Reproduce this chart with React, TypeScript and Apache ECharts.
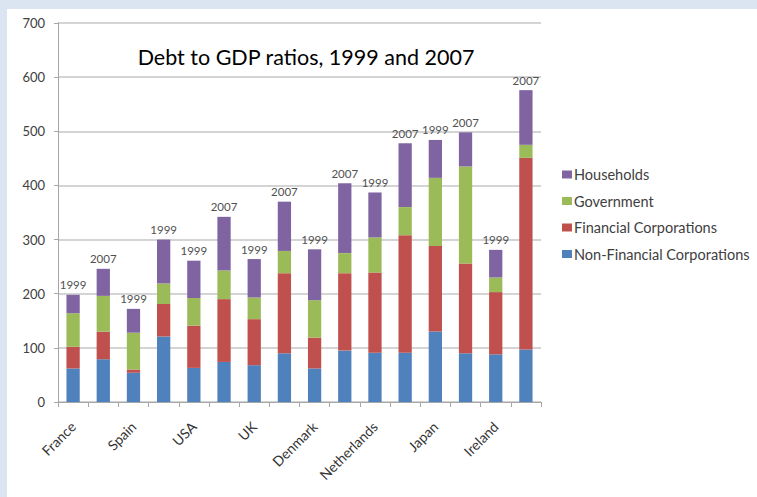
import React, { useEffect, useRef } from "react";
import * as echarts from "echarts";

const countries = ["France", "France", "Spain", "Spain", "USA", "USA", "UK", "UK", "Denmark", "Denmark", "Netherlands", "Netherlands", "Japan", "Japan", "Ireland", "Ireland"];
const years = ["1999", "2007", "1999", "2007", "1999", "2007", "1999", "2007", "1999", "2007", "1999", "2007", "1999", "2007", "1999", "2007"];
const barLabels = ["1999", "2007", "1999", "1999", "1999", "2007", "1999", "2007", "1999", "2007", "1999", "2007", "1999", "2007", "1999", "2007"];
const nonFinancial = [62, 79, 54, 121, 63, 74, 68, 90, 62, 95, 91, 91, 130, 90, 88, 97];
const financial = [40, 51, 6, 60, 78, 116, 85, 148, 57, 143, 148, 217, 158, 166, 115, 354];
const government = [62, 66, 68, 38, 51, 53, 40, 41, 69, 37, 65, 52, 126, 179, 27, 24];
const households = [34, 50, 44, 81, 69, 99, 71, 91, 94, 129, 83, 118, 70, 63, 51, 101];
const yTicks = [0, 100, 200, 300, 400, 500, 600, 700];

const FONT = "Lato, 'DejaVu Sans', sans-serif";

export default function App() {
  const ref = useRef<HTMLDivElement>(null);
  useEffect(() => {
    document.body.style.margin = "0";
    const chart = echarts.init(ref.current!, undefined, { renderer: "svg" });
    const categories = countries.map((c, i) => c + " " + years[i]);
    const mk = (name: string, data: number[], color: string, withLabel: boolean) => ({
      name,
      type: "bar",
      stack: "total",
      data,
      barWidth: "44%",
      itemStyle: { color },
      label: withLabel
        ? {
            show: true,
            position: "top",
            distance: 4,
            color: "#505050",
            fontSize: 11.5,
            fontFamily: FONT,
            formatter: (p: any) => barLabels[p.dataIndex],
          }
        : { show: false },
    });
    chart.setOption({
      animation: false,
      backgroundColor: "#ffffff",
      textStyle: { fontFamily: FONT },
      title: {
        text: "Debt to GDP ratios, 1999 and 2007",
        left: 294,
        textAlign: "center",
        top: 32,
        textStyle: { fontFamily: FONT, fontSize: 21.5, fontWeight: "normal", color: "#000000" },
      },
      legend: {
        orient: "vertical",
        left: 550,
        top: 153,
        itemWidth: 10,
        itemHeight: 8,
        itemGap: 11.5,
        icon: "rect",
        data: ["Households", "Government", "Financial Corporations", "Non-Financial Corporations"],
        textStyle: { fontFamily: FONT, fontSize: 14.5, color: "#404040", padding: [0, 0, 0, -3] },
      },
      grid: { left: 51, right: 216, top: 14, bottom: 95 },
      xAxis: {
        type: "category",
        data: categories,
        axisLine: { lineStyle: { color: "#a6a6a6", width: 1 } },
        axisTick: { show: true, interval: 0, length: 5, lineStyle: { color: "#a6a6a6" } },
        axisLabel: {
          interval: 1,
          rotate: 45,
          margin: 22,
          fontSize: 14,
          color: "#333333",
          fontFamily: FONT,
          formatter: (_v: string, i: number) => countries[i],
        },
      },
      yAxis: {
        type: "value",
        min: yTicks[0],
        max: yTicks[yTicks.length - 1],
        interval: 100,
        axisLine: { show: true, lineStyle: { color: "#a6a6a6" } },
        axisTick: { show: true, length: 4, lineStyle: { color: "#a6a6a6" } },
        axisLabel: { margin: 13, fontSize: 13, color: "#404040", fontFamily: FONT },
        splitLine: { lineStyle: { color: "#c6c6c6", width: 1.5 } },
      },
      series: [
        mk("Non-Financial Corporations", nonFinancial, "#4f81bd", false),
        mk("Financial Corporations", financial, "#c0504d", false),
        mk("Government", government, "#9bbb59", false),
        mk("Households", households, "#8064a2", true),
      ],
    });
    return () => chart.dispose();
  }, []);
  return (
    <div style={{ position: "fixed", left: 0, top: 0, width: 757, height: 497, background: "#dbe5f1" }}>
      <div style={{ position: "absolute", left: 7, top: 9, width: 750, height: 488, background: "#fff" }}>
        <div ref={ref} style={{ width: 750, height: 488 }} />
      </div>
    </div>
  );
}
